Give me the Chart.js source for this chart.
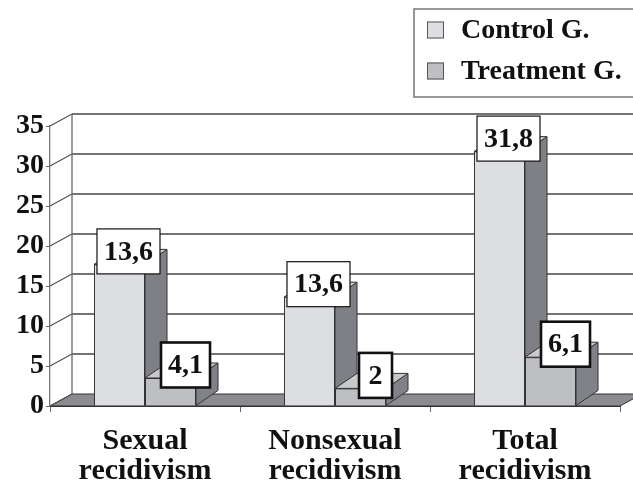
<!DOCTYPE html>
<html>
<head>
<meta charset="utf-8">
<title>recidivism</title>
<script src="https://cdn.jsdelivr.net/npm/chart.js@4"></script>
<style>
  html, body { margin: 0; padding: 0; background: #fff; }
  #wrap { width: 633px; height: 481px; }
</style>
</head>
<body>
<div id="wrap"><canvas id="myChart" width="633" height="481"></canvas></div>
<script>
// data
var categories = [['Sexual', 'recidivism'], ['Nonsexual', 'recidivism'], ['Total', 'recidivism']];
var seriesNames = ['Control G.', 'Treatment G.'];
var controlValues = [17.7, 13.6, 31.8];
var treatmentValues = [3.5, 2.2, 6.1];
// numbers printed in the boxes (as written in the chart)
var controlLabels = ['13,6', '13,6', '31,8'];
var treatmentLabels = ['4,1', '2', '6,1'];
var yTicks = [0, 5, 10, 15, 20, 25, 30, 35];

var SERIF = '"Liberation Serif", "Times New Roman", serif';
var WALL_DX = 22, WALL_DY = -12;   // depth of back wall
var BAR_DX = 22, BAR_DY = -15;     // depth of a bar

var faceColors = [
  { front: '#dddee1', side: '#7f8085', top: '#cfd0d3' },
  { front: '#bebfc3', side: '#818287', top: '#c8c9cc' }
];

function poly(ctx, pts, fill, stroke, lw) {
  ctx.beginPath();
  ctx.moveTo(pts[0][0], pts[0][1]);
  for (var i = 1; i < pts.length; i++) ctx.lineTo(pts[i][0], pts[i][1]);
  ctx.closePath();
  if (fill) { ctx.fillStyle = fill; ctx.fill(); }
  if (stroke) { ctx.strokeStyle = stroke; ctx.lineWidth = lw || 1; ctx.stroke(); }
}

var threeD = {
  id: 'threeD',
  beforeDatasetsDraw: function (chart) {
    var ctx = chart.ctx;
    var a = chart.chartArea;
    var y = chart.scales.y;
    ctx.save();
    // floor
    poly(ctx, [[a.left, a.bottom], [a.right, a.bottom], [a.right + WALL_DX, a.bottom + WALL_DY], [a.left + WALL_DX, a.bottom + WALL_DY]], '#8b8c90', '#333', 1);
    // back wall grid + left wall slants
    ctx.lineWidth = 1.3;
    yTicks.forEach(function (v) {
      var py = y.getPixelForValue(v);
      ctx.strokeStyle = '#444';
      if (v > 0) {
        ctx.beginPath();
        ctx.moveTo(a.left + WALL_DX, py + WALL_DY);
        ctx.lineTo(chart.width + 10, py + WALL_DY);
        ctx.stroke();
      }
      ctx.strokeStyle = '#555';
      ctx.beginPath();
      ctx.moveTo(a.left, py);
      ctx.lineTo(a.left + WALL_DX, py + WALL_DY);
      ctx.stroke();
    });
    ctx.strokeStyle = '#666';
    ctx.beginPath();
    ctx.moveTo(a.left + WALL_DX, y.getPixelForValue(35) + WALL_DY);
    ctx.lineTo(a.left + WALL_DX, a.bottom + WALL_DY);
    ctx.stroke();
    // side and top faces of every bar
    chart.data.datasets.forEach(function (ds, di) {
      var meta = chart.getDatasetMeta(di);
      meta.data.forEach(function (bar) {
        var p = bar.getProps(['x', 'y', 'base', 'width'], true);
        var l = p.x - p.width / 2, r = p.x + p.width / 2;
        poly(ctx, [[r, p.y], [r + BAR_DX, p.y + BAR_DY], [r + BAR_DX, p.base + BAR_DY], [r, p.base]], faceColors[di].side, '#333', 1);
        poly(ctx, [[l, p.y], [l + BAR_DX, p.y + BAR_DY], [r + BAR_DX, p.y + BAR_DY], [r, p.y]], faceColors[di].top, '#333', 1);
      });
    });
    ctx.restore();
  },
  afterDatasetsDraw: function (chart) {
    var ctx = chart.ctx;
    var texts = [controlLabels, treatmentLabels];
    var shift = [9, 15];
    var borders = [1.2, 2.6];
    ctx.save();
    ctx.font = 'bold 28px ' + SERIF;
    ctx.textAlign = 'center';
    ctx.textBaseline = 'middle';
    chart.data.datasets.forEach(function (ds, di) {
      var meta = chart.getDatasetMeta(di);
      meta.data.forEach(function (bar, i) {
        var p = bar.getProps(['x', 'y'], true);
        var t = texts[di][i];
        var w = Math.max(ctx.measureText(t).width + 14, 33);
        var h = 45;
        var cx = p.x + shift[di], cy = p.y - 13;
        ctx.fillStyle = '#fff';
        ctx.fillRect(cx - w / 2, cy - h / 2, w, h);
        ctx.strokeStyle = '#111';
        ctx.lineWidth = borders[di];
        ctx.strokeRect(cx - w / 2, cy - h / 2, w, h);
        ctx.fillStyle = '#111';
        ctx.fillText(t, cx, cy + 1);
      });
    });
    ctx.restore();
  },
  afterDraw: function (chart) {
    // legend box top right
    var ctx = chart.ctx;
    ctx.save();
    ctx.fillStyle = '#fff';
    ctx.fillRect(414, 9, 230, 88);
    ctx.strokeStyle = '#777';
    ctx.lineWidth = 1.5;
    ctx.strokeRect(414, 9, 230, 88);
    ctx.font = 'bold 28px ' + SERIF;
    ctx.textAlign = 'left';
    ctx.textBaseline = 'middle';
    chart.data.datasets.forEach(function (ds, di) {
      var yy = 30 + di * 41;
      ctx.fillStyle = ds.backgroundColor;
      ctx.fillRect(427, yy - 8.5, 17, 17);
      ctx.strokeStyle = '#555';
      ctx.lineWidth = 1;
      ctx.strokeRect(427.5, yy - 8, 16, 16);
      ctx.fillStyle = '#111';
      ctx.fillText(ds.label, 461, yy + 1);
    });
    ctx.restore();
  }
};

var ctx = document.getElementById('myChart').getContext('2d');
var chart = new Chart(ctx, {
  type: 'bar',
  data: {
    labels: categories,
    datasets: [{
      label: seriesNames[0],
      data: controlValues,
      backgroundColor: faceColors[0].front,
      borderColor: '#333',
      borderWidth: 1,
      categoryPercentage: 0.537,
      barPercentage: 1
    }, {
      label: seriesNames[1],
      data: treatmentValues,
      backgroundColor: faceColors[1].front,
      borderColor: '#333',
      borderWidth: 1,
      categoryPercentage: 0.537,
      barPercentage: 1
    }]
  },
  options: {
    responsive: false,
    animation: false,
    devicePixelRatio: 1,
    layout: { padding: { top: 126, right: 13, left: 0, bottom: 0 } },
    plugins: { legend: { display: false }, tooltip: { enabled: false } },
    scales: {
      x: {
        grid: { drawOnChartArea: false, tickLength: 6, color: '#666' },
        border: { display: true, color: '#333' },
        ticks: {
          color: '#111',
          maxRotation: 0,
          autoSkip: false,
          padding: 14,
          font: { family: SERIF, size: 30, weight: 'bold', lineHeight: 1 }
        },
        afterFit: function (s) { s.height = 75; }
      },
      y: {
        min: 0,
        max: 35,
        grid: { drawOnChartArea: false, tickLength: 4, color: '#666' },
        border: { display: true, color: '#777', width: 1.3 },
        ticks: {
          stepSize: 5,
          color: '#111',
          padding: 2,
          font: { family: SERIF, size: 28, weight: 'bold', lineHeight: 1 }
        },
        afterFit: function (s) { s.width = 50; }
      }
    }
  },
  plugins: [threeD]
});
</script>
</body>
</html>
